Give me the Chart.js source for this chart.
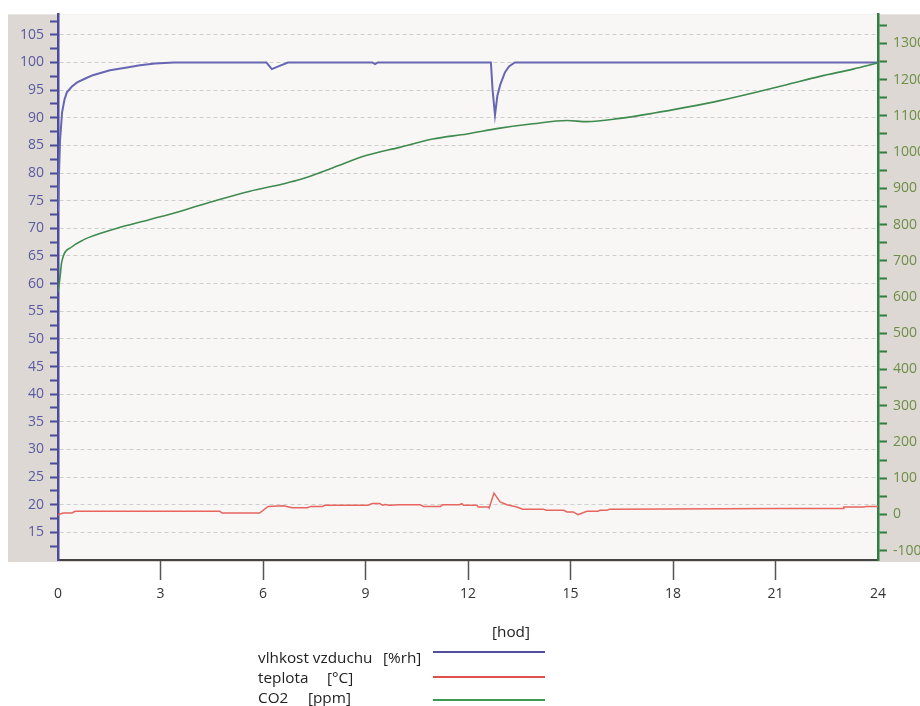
<!DOCTYPE html>
<html>
<head>
<meta charset="utf-8">
<script src="https://cdn.jsdelivr.net/npm/chart.js@4.4.1/dist/chart.umd.min.js"></script>
<style>
  body { margin: 0; background: #fff; }
  #wrap { position: relative; width: 920px; height: 706px; font-family: "Open Sans", sans-serif; color: #222; }
  #wrap canvas { position: absolute; left: 0; top: 0; }
  .lg { position: absolute; font-size: 15.3px; line-height: 18px; white-space: nowrap; }
  .ln { position: absolute; left: 433px; width: 112px; height: 2px; }
</style>
</head>
<body>
<div id="wrap">
  <canvas id="chart" width="920" height="706"></canvas>
  <div class="lg" style="left:492px;top:622px">[hod]</div>

  <div class="lg" style="left:258px;top:648px">vlhkost vzduchu</div>
  <div class="lg" style="left:383px;top:648px">[%rh]</div>
  <div class="ln" style="top:651px;background:#4f4f9e"></div>

  <div class="lg" style="left:258px;top:668px">teplota</div>
  <div class="lg" style="left:327px;top:668px">[°C]</div>
  <div class="ln" style="top:676px;background:#e0504a"></div>

  <div class="lg" style="left:258px;top:688px">CO2</div>
  <div class="lg" style="left:308px;top:688px">[ppm]</div>
  <div class="ln" style="top:699px;background:#3c9a52"></div>
</div>
<script>
// time axis [hod]
const hourTicks = [0, 3, 6, 9, 12, 15, 18, 21, 24];

// vlhkost vzduchu [%rh]
const humTime = [0, 0.03, 0.06, 0.12, 0.19, 0.26, 0.4, 0.56, 0.8, 1.02, 1.52, 2.02, 2.4, 2.84, 3.4,
  6.1, 6.26, 6.45, 6.73, 9.2, 9.28, 9.36,
  12.67, 12.72, 12.79, 12.86, 12.94, 13.08, 13.2, 13.37, 24];
const humValues = [73, 80, 86, 91, 93.3, 94.6, 95.6, 96.4, 97.1, 97.7, 98.6, 99.1, 99.5, 99.8, 100,
  100, 98.8, 99.3, 100, 100, 99.7, 100,
  100, 95, 90.5, 94, 95.9, 98.2, 99.3, 100, 100];

// teplota [°C]
const tempTime = [0, 0.15, 0.41, 0.5, 4.74, 4.8, 5.9, 6.15, 6.6, 6.85, 7.3, 7.4, 7.75, 7.8,
  9.07, 9.2, 9.42, 9.5, 9.57, 9.7, 10.0, 10.6, 10.7, 11.2, 11.25, 11.75, 11.82, 11.87,
  12.26, 12.3, 12.6, 12.62, 12.76, 12.94, 13.14, 13.43, 13.6, 14.2, 14.3, 14.8, 14.9,
  15.08, 15.22, 15.48, 15.8, 15.86, 16.07, 16.15, 21.13, 22.98, 23.0, 23.6, 23.65, 24];
const tempValues = [18.2, 18.5, 18.5, 18.8, 18.8, 18.5, 18.5, 19.7, 19.8, 19.45, 19.45, 19.7, 19.7, 19.9,
  19.9, 20.2, 20.2, 19.9, 20.05, 19.9, 20.0, 20.0, 19.7, 19.7, 20.0, 20.0, 20.2, 19.9,
  19.9, 19.6, 19.6, 19.4, 22.1, 20.5, 20.0, 19.6, 19.2, 19.2, 19.0, 19.0, 18.7,
  18.7, 18.2, 18.8, 18.8, 19.0, 19.0, 19.2, 19.3, 19.3, 19.6, 19.6, 19.7, 19.7];

// CO2 [ppm]
const co2Time = [0, 0.06, 0.11, 0.4, 0.73, 1.32, 1.73, 2.69, 3.66, 4.65, 5.62, 6.58, 7.08,
  8.05, 9.04, 10.0, 10.97, 11.97, 12.94, 13.9, 14.9, 15.48, 16.45, 17.41, 18.41,
  19.37, 20.34, 21.33, 22.3, 23.27, 24];
const co2Values = [614, 655, 697, 738, 757, 778, 790, 814, 839, 867, 892, 912, 924,
  957, 991, 1013, 1036, 1050, 1066, 1078, 1087, 1084, 1093, 1107, 1124,
  1142, 1163, 1186, 1209, 1229, 1246];

// axis tick labels
const leftLabels = [15, 20, 25, 30, 35, 40, 45, 50, 55, 60, 65, 70, 75, 80, 85, 90, 95, 100, 105];
const rightLabels = [-100, 0, 100, 200, 300, 400, 500, 600, 700, 800, 900, 1000, 1100, 1200, 1300];

function pts(xs, ys) {
  return xs.map((x, i) => ({ x: x, y: ys[i] }));
}

// major + minor ticks (minor halfway between labels), kept inside the axis range
function withMinor(labels, min, max) {
  const step = labels[1] - labels[0];
  const out = [labels[0] - step / 2];
  labels.forEach(v => { out.push(v); out.push(v + step / 2); });
  return out.filter(v => v >= min && v <= max).map(v => ({ value: v }));
}

const bgPlugin = {
  id: 'bg',
  beforeDraw(chart) {
    const { ctx, chartArea: a } = chart;
    ctx.save();
    ctx.fillStyle = '#ddd8d4';
    ctx.fillRect(8, a.top, 912, a.bottom - a.top + 2);
    ctx.fillStyle = '#f8f7f5';
    ctx.fillRect(a.left, a.top, a.right - a.left, a.bottom - a.top);
    ctx.restore();
  }
};

new Chart(document.getElementById('chart'), {
  type: 'line',
  data: {
    datasets: [
      {
        label: 'CO2 [ppm]',
        data: pts(co2Time, co2Values),
        yAxisID: 'y2',
        borderColor: '#3f8a4e',
        borderWidth: 1.6,
        pointRadius: 0,
        cubicInterpolationMode: 'monotone'
      },
      {
        label: 'teplota [°C]',
        data: pts(tempTime, tempValues),
        yAxisID: 'y',
        borderColor: '#e8645e',
        borderWidth: 1.5,
        pointRadius: 0,
        tension: 0
      },
      {
        label: 'vlhkost vzduchu [%rh]',
        data: pts(humTime, humValues),
        yAxisID: 'y',
        borderColor: '#6666b2',
        borderWidth: 2,
        pointRadius: 0,
        tension: 0
      }
    ]
  },
  options: {
    responsive: false,
    animation: false,
    layout: { padding: { left: 8, top: 12, right: 0, bottom: 96 } },
    plugins: { legend: { display: false }, tooltip: { enabled: false } },
    scales: {
      x: {
        type: 'linear',
        min: 0,
        max: 24,
        afterFit: s => { s.height = 50; },
        afterBuildTicks: s => { s.ticks = hourTicks.map(v => ({ value: v })); },
        border: { color: '#444', width: 2 },
        grid: {
          drawOnChartArea: false,
          tickLength: 20,
          tickWidth: 1.5,
          tickColor: c => (c.tick && (c.tick.value === 0 || c.tick.value === 24)) ? 'transparent' : '#555'
        },
        ticks: { color: '#333', padding: 6, autoSkip: false, font: { family: 'Open Sans', size: 14 } }
      },
      y: {
        position: 'left',
        min: 10,
        max: 108.7,
        afterFit: s => { s.width = 50; },
        afterBuildTicks: s => { s.ticks = withMinor(leftLabels, 10, 108.7); },
        border: { color: '#4b4b99', width: 2.5, dash: [4, 3] },
        grid: {
          color: c => (c.tick && leftLabels.includes(c.tick.value)) ? '#cfcfcf' : 'transparent',
          lineWidth: 1,
          tickLength: 8,
          tickWidth: 2,
          tickColor: '#4b4b99'
        },
        ticks: {
          color: '#5a5aa0',
          padding: 6,
          autoSkip: false,
          font: { family: 'Open Sans', size: 14 },
          callback: v => leftLabels.includes(v) ? String(v) : ''
        }
      },
      y2: {
        position: 'right',
        min: -126,
        max: 1380,
        afterFit: s => { s.width = 42; },
        afterBuildTicks: s => { s.ticks = withMinor(rightLabels, -126, 1380); },
        border: { color: '#2f7f3f', width: 2.5 },
        grid: {
          drawOnChartArea: false,
          tickLength: 9,
          tickWidth: 2,
          tickColor: '#2f7f3f'
        },
        ticks: {
          color: '#6d8f45',
          padding: 6,
          autoSkip: false,
          font: { family: 'Open Sans', size: 14 },
          callback: v => rightLabels.includes(v) ? String(v) : ''
        }
      }
    }
  },
  plugins: [bgPlugin]
});
</script>
</body>
</html>
